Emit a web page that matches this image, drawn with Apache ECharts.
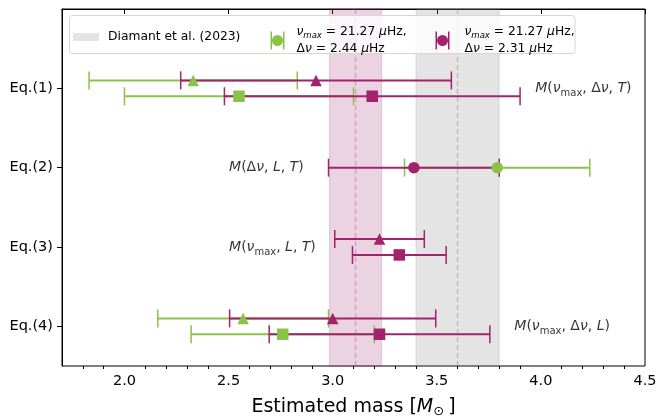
<!DOCTYPE html>
<html>
<head>
<meta charset="utf-8">
<script src="https://cdn.jsdelivr.net/npm/echarts@6/dist/echarts.min.js"></script>
<style>
  html, body { margin: 0; padding: 0; background: #fff; }
  #chart { width: 658px; height: 416px; }
</style>
</head>
<body>
<div id="chart"></div>
<script>
// Mass estimates per scaling relation: [row, mass, symmetric error]
const rowLabels = ['Eq.(1)', 'Eq.(2)', 'Eq.(3)', 'Eq.(4)'];
const rowValues = [1, 2, 3, 4];

const greenTriangle = [[1, 2.33, 0.50], [4, 2.57, 0.41]];
const greenSquare   = [[1, 2.55, 0.55], [4, 2.76, 0.44]];
const greenCircle   = [[2, 3.79, 0.445]];

const purpleTriangle = [[1, 2.92, 0.65], [3, 3.225, 0.215], [4, 3.00, 0.495]];
const purpleSquare   = [[1, 3.19, 0.71], [3, 3.32, 0.225], [4, 3.225, 0.53]];
const purpleCircle   = [[2, 3.39, 0.41]];

// Reference mass ranges: [low, high, central]
const diamantRange = [3.4, 3.8, 3.6];
const pinkRange = [2.985, 3.235, 3.11];

// Relation labels: [mass, row]
const relationPos = [[3.97, 1], [2.5, 2], [2.5, 3], [3.87, 4]];
const relationText = [
  '{it|M}{n|(}{it|ν}{sub|max}{n|, Δ}{it|ν}{n|, }{it|T}{n|)}',
  '{it|M}{n|(Δ}{it|ν}{n|, }{it|L}{n|, }{it|T}{n|)}',
  '{it|M}{n|(}{it|ν}{sub|max}{n|, }{it|L}{n|, }{it|T}{n|)}',
  '{it|M}{n|(}{it|ν}{sub|max}{n|, Δ}{it|ν}{n|, }{it|L}{n|)}'
];

const xMajorTicks = [2.0, 2.5, 3.0, 3.5, 4.0, 4.5];
const xMinorTicks = [1.8, 1.9, 2.1, 2.2, 2.3, 2.4, 2.6, 2.7, 2.8, 2.9, 3.1, 3.2,
                     3.3, 3.4, 3.6, 3.7, 3.8, 3.9, 4.1, 4.2, 4.3, 4.4];

const greenName = 'νmax = 21.27 μHz, Δν = 2.44 μHz';
const purpleName = 'νmax = 21.27 μHz, Δν = 2.31 μHz';
const diamantName = 'Diamant et al. (2023)';
const greenLegendText = '{i|ν}{si|max}{n| = 21.27 }{i|μ}{n|Hz,}\n{n|Δ}{i|ν}{n| = 2.44 }{i|μ}{n|Hz}';
const purpleLegendText = '{i|ν}{si|max}{n| = 21.27 }{i|μ}{n|Hz,}\n{n|Δ}{i|ν}{n| = 2.31 }{i|μ}{n|Hz}';

const GREEN = '#8bc34a';
const PURPLE = '#a2236b';
const FONT = "'DejaVu Sans', sans-serif";
const OFFSET = { triangle: -0.1, rect: 0.1, circle: 0 };

const chart = echarts.init(document.getElementById('chart'), null, { renderer: 'canvas' });

function bandSeries(name, range, fill, dash) {
  return {
    type: 'custom', name: name, coordinateSystem: 'cartesian2d',
    itemStyle: { color: fill },
    data: [range],
    encode: { x: [0, 1] },
    silent: true,
    renderItem: function (params, api) {
      const cs = params.coordSys;
      const x0 = api.coord([api.value(0), 0])[0];
      const x1 = api.coord([api.value(1), 0])[0];
      const xc = api.coord([api.value(2), 0])[0];
      return {
        type: 'group',
        children: [
          { type: 'rect', shape: { x: x0, y: cs.y, width: x1 - x0, height: cs.height },
            style: { fill: fill, stroke: fill, lineWidth: 1 } },
          { type: 'line', shape: { x1: xc, y1: cs.y, x2: xc, y2: cs.y + cs.height },
            style: { stroke: dash, lineWidth: 1.5, lineDash: [5, 3] } }
        ]
      };
    }
  };
}

function errorSeries(name, color, points, symbol) {
  return {
    type: 'custom', name: name, coordinateSystem: 'cartesian2d',
    itemStyle: { color: color },
    silent: true,
    data: points.map(p => [p[1], p[0] + OFFSET[symbol], p[2]]),
    encode: { x: 0, y: 1 },
    renderItem: function (params, api) {
      const x = api.value(0), y = api.value(1), e = api.value(2);
      const a = api.coord([x - e, y]);
      const b = api.coord([x + e, y]);
      const cap = 9;
      return {
        type: 'group',
        children: [
          { type: 'line', shape: { x1: a[0], y1: a[1], x2: b[0], y2: b[1] },
            style: { stroke: color, lineWidth: 2 } },
          { type: 'line', shape: { x1: a[0], y1: a[1] - cap, x2: a[0], y2: a[1] + cap },
            style: { stroke: color, lineWidth: 1.5 } },
          { type: 'line', shape: { x1: b[0], y1: b[1] - cap, x2: b[0], y2: b[1] + cap },
            style: { stroke: color, lineWidth: 1.5 } }
        ]
      };
    }
  };
}

function markerSeries(name, color, points, symbol) {
  return {
    type: 'scatter', name: name, symbol: symbol, symbolSize: 11.5,
    itemStyle: { color: color, opacity: 1 },
    silent: true,
    data: points.map(p => [p[1], p[0] + OFFSET[symbol]])
  };
}

const errIcon = 'path://M0,0h1.5v18h-1.5z M12.5,0h1.5v18h-1.5z M1.5,8h11v2h-11z ' +
                'M1.5,9a5.5,5.5 0 1,1 11,0a5.5,5.5 0 1,1 -11,0z';

const legendRich = {
  n: { fontSize: 12.3, fontFamily: FONT, color: '#000', lineHeight: 17 },
  i: { fontSize: 12.3, fontFamily: FONT, fontStyle: 'italic', color: '#000', lineHeight: 17 },
  si: { fontSize: 8.5, fontFamily: FONT, fontStyle: 'italic', color: '#000', lineHeight: 17,
        verticalAlign: 'bottom' }
};

const option = {
  animation: false,
  backgroundColor: '#fff',
  textStyle: { fontFamily: FONT },
  grid: { left: 62, right: 13, top: 9, bottom: 50, show: true, containLabel: false,
          outerBoundsMode: 'none',
          borderColor: '#000', borderWidth: 1, backgroundColor: 'transparent' },
  xAxis: [
    {
      type: 'value', min: 1.7, max: 4.5, position: 'bottom',
      axisLine: { show: true, lineStyle: { color: '#000', width: 1 } },
      axisTick: { show: true, customValues: xMajorTicks, length: 5, lineStyle: { color: '#000', width: 1 } },
      axisLabel: { customValues: xMajorTicks, formatter: v => v.toFixed(1),
                   fontSize: 14.5, color: '#000', margin: 8, fontFamily: FONT },
      splitLine: { show: false },
      name: 'Estimated mass [{it|M}{sub|⊙}]',
      nameLocation: 'middle', nameGap: 30,
      nameTextStyle: {
        fontSize: 19, color: '#000', fontFamily: FONT,
        rich: {
          it: { fontSize: 19, fontStyle: 'italic', fontFamily: FONT, color: '#000' },
          sub: { fontSize: 13, fontFamily: FONT, color: '#000', verticalAlign: 'bottom', padding: [9, 4, 0, 0] }
        }
      }
    },
    {
      type: 'value', min: 1.7, max: 4.5, position: 'bottom',
      axisLine: { show: false },
      axisTick: { show: true, customValues: xMinorTicks, length: 3, lineStyle: { color: '#000', width: 1 } },
      axisLabel: { show: false },
      splitLine: { show: false }
    }
  ],
  yAxis: {
    type: 'value', min: 0, max: 4.5, inverse: true,
    axisLine: { show: true, lineStyle: { color: '#000', width: 1 } },
    axisTick: { show: true, customValues: rowValues, length: 5, lineStyle: { color: '#000', width: 1 } },
    axisLabel: { customValues: rowValues, formatter: v => rowLabels[Math.round(v) - 1],
                 fontSize: 14.5, color: '#000', margin: 9, fontFamily: FONT },
    splitLine: { show: false }
  },
  graphic: [
    { type: 'rect', z: 3, shape: { x: 69.5, y: 15.5, width: 505.5, height: 38, r: 3 },
      style: { fill: 'rgba(255,255,255,0.8)', stroke: '#d6d6d6', lineWidth: 1 } }
  ],
  legend: [
    {
      data: [{ name: diamantName, icon: 'rect', itemStyle: { color: '#e4e4e4', borderWidth: 0 } }],
      left: 73, top: 31, itemWidth: 26, itemHeight: 8, padding: 0, selectedMode: false, z: 5,
      textStyle: { fontSize: 12.3, fontFamily: FONT, color: '#000', padding: [0, 0, 0, 4] }
    },
    {
      data: [{ name: greenName, icon: errIcon, itemStyle: { color: GREEN, borderWidth: 0 } }],
      left: 270.5, top: 26, itemWidth: 14, itemHeight: 18, padding: 0, selectedMode: false, z: 5,
      formatter: () => greenLegendText,
      textStyle: { fontSize: 12.3, fontFamily: FONT, color: '#000', padding: [0, 0, 0, 7], rich: legendRich }
    },
    {
      data: [{ name: purpleName, icon: errIcon, itemStyle: { color: PURPLE, borderWidth: 0 } }],
      left: 435.5, top: 26, itemWidth: 14, itemHeight: 18, padding: 0, selectedMode: false, z: 5,
      formatter: () => purpleLegendText,
      textStyle: { fontSize: 12.3, fontFamily: FONT, color: '#000', padding: [0, 0, 0, 10], rich: legendRich }
    }
  ],
  series: [
    bandSeries(diamantName, diamantRange, 'rgba(128,128,128,0.21)', 'rgba(128,128,128,0.4)'),
    bandSeries('pink range', pinkRange, 'rgba(162,36,107,0.2)', 'rgba(162,36,107,0.28)'),
    errorSeries(greenName, GREEN, greenTriangle, 'triangle'),
    errorSeries(greenName, GREEN, greenSquare, 'rect'),
    errorSeries(greenName, GREEN, greenCircle, 'circle'),
    errorSeries(purpleName, PURPLE, purpleTriangle, 'triangle'),
    errorSeries(purpleName, PURPLE, purpleSquare, 'rect'),
    errorSeries(purpleName, PURPLE, purpleCircle, 'circle'),
    markerSeries(greenName, GREEN, greenTriangle, 'triangle'),
    markerSeries(greenName, GREEN, greenSquare, 'rect'),
    markerSeries(greenName, GREEN, greenCircle, 'circle'),
    markerSeries(purpleName, PURPLE, purpleTriangle, 'triangle'),
    markerSeries(purpleName, PURPLE, purpleSquare, 'rect'),
    markerSeries(purpleName, PURPLE, purpleCircle, 'circle'),
    {
      type: 'scatter', name: 'relations', symbolSize: 1, silent: true,
      itemStyle: { color: 'rgba(0,0,0,0)' },
      data: relationPos.map((p, i) => ({ value: p, text: relationText[i] })),
      label: {
        show: true, position: 'right', distance: 0,
        formatter: p => p.data.text,
        rich: {
          n: { fontSize: 14, fontFamily: FONT, color: '#000', lineHeight: 20 },
          it: { fontSize: 14, fontFamily: FONT, fontStyle: 'italic', color: '#000', lineHeight: 20 },
          sub: { fontSize: 10, fontFamily: FONT, color: '#000', lineHeight: 20, verticalAlign: 'bottom' }
        }
      }
    }
  ]
};

chart.setOption(option);
</script>
</body>
</html>
